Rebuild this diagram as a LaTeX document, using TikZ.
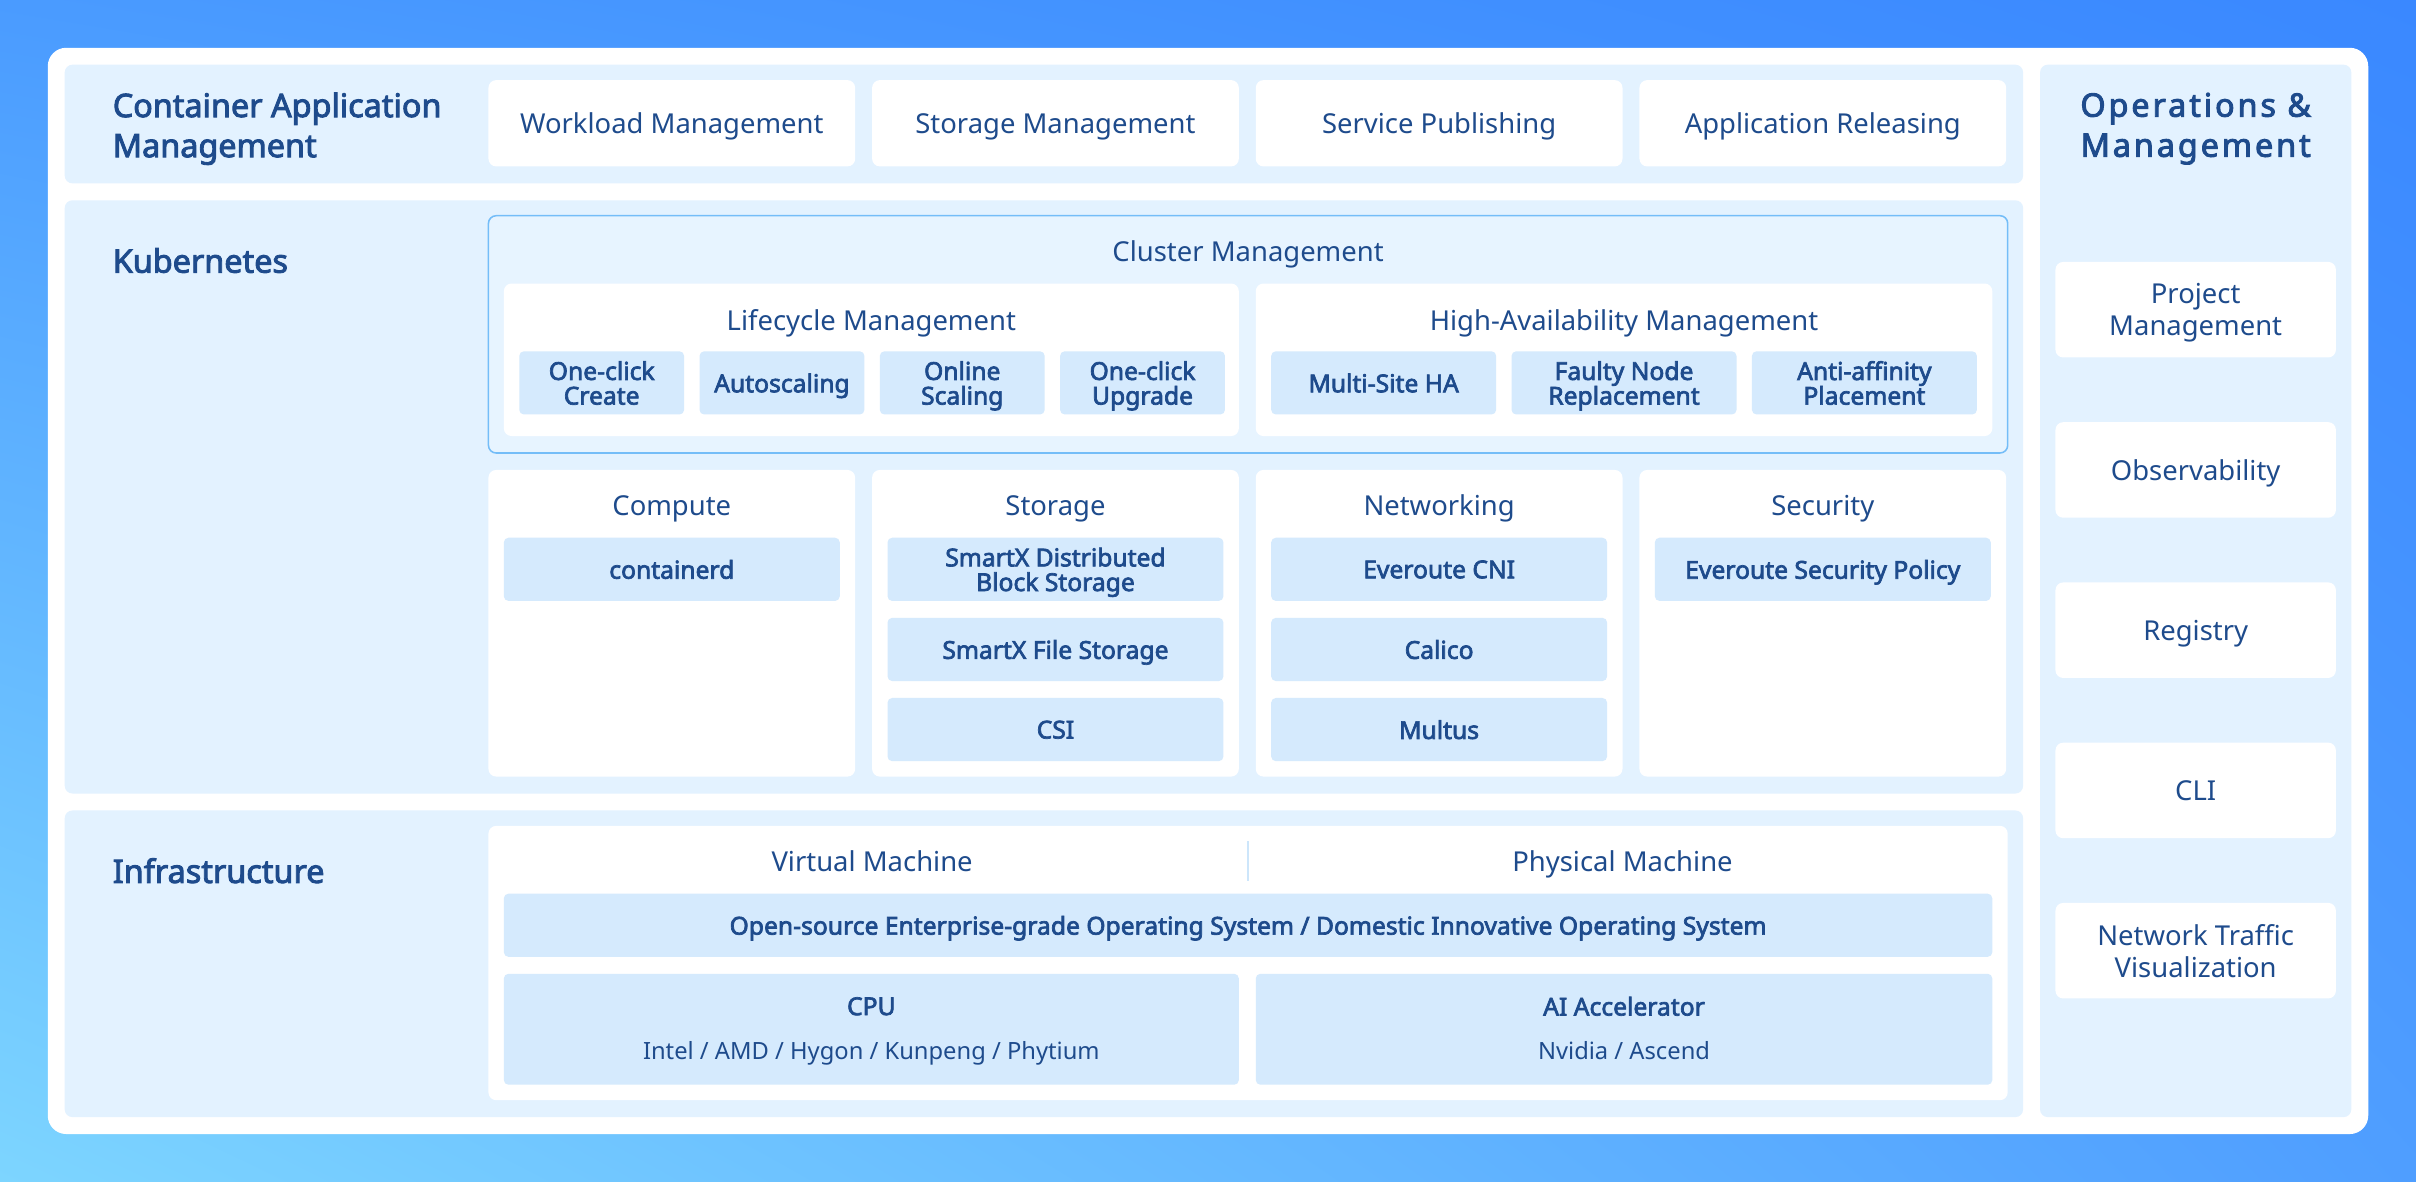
\documentclass[tikz,border=0pt]{standalone}
\usepackage{fontspec}
\setmainfont{Noto Sans}[AutoFakeBold=2.8]
\newfontfamily\trackfont{Noto Sans}[LetterSpace=9, AutoFakeBold=2.8]
\usepackage{xcolor}
\usetikzlibrary{positioning,calc,shadings}
\definecolor{inkblue}{HTML}{1E4B8C}
\definecolor{panelblue}{HTML}{E3F2FF}
\definecolor{chipblue}{HTML}{D5EAFD}
\definecolor{edgeblue}{HTML}{74BDF8}
\definecolor{ruleblue}{HTML}{CDE6FB}
\definecolor{bgTL}{HTML}{4A9BFF}
\definecolor{bgTR}{HTML}{3A88FF}
\definecolor{bgBL}{HTML}{7DD5FF}
\definecolor{bgBR}{HTML}{4F9EFF}
\newcommand\lblfont{\fontsize{17.8}{21}\selectfont}
\newcommand\chpfont{\fontsize{16}{16}\selectfont\bfseries}
\newcommand\ttlfont{\fontsize{21}{26}\selectfont\bfseries}
\tikzset{
  panelbox/.style={fill=panelblue, rounded corners=5pt, anchor=north west, inner sep=0pt, outer sep=0pt},
  cardbox/.style={fill=white, rounded corners=5pt, anchor=north west, inner sep=0pt, outer sep=0pt, text=inkblue, font=\lblfont, align=center, text depth=0pt},
  chipbox/.style={fill=chipblue, rounded corners=3pt, anchor=north west, inner sep=0pt, outer sep=0pt, text=inkblue, font=\chpfont, align=center, text depth=0pt},
  chiptext/.style={text=inkblue, font=\chpfont, inner sep=0pt, text depth=0pt},
  layertitle/.style={text=inkblue, font=\ttlfont, align=left, anchor=west, inner sep=0pt, text depth=0pt},
  headtext/.style={text=inkblue, font=\lblfont, inner sep=0pt, text depth=0pt}
}
\begin{document}
\begin{tikzpicture}[x=1pt, y=-1pt, node distance=11pt]
  \useasboundingbox (0,0) rectangle (1568,767);
  \shade[upper left=bgTL, upper right=bgTR, lower left=bgBL, lower right=bgBR] (0,0) rectangle (1568,767);
  \fill[white, rounded corners=12pt] (31,31) rectangle (1537,736);

  % layers
  \node[panelbox, minimum width=1271pt, minimum height=77pt] (app) at (42,42) {};
  \node[panelbox, minimum width=1271pt, minimum height=385pt] (k8s) at (42,130) {};
  \node[panelbox, minimum width=1271pt, minimum height=199pt] (infra) at (42,526) {};
  \node[panelbox, minimum width=202pt, minimum height=683pt] (ops) at (1324,42) {};

  \node[layertitle] (appT) at (73,81) {Container Application\\Management};
  \node[layertitle] (k8sT) at (73,169) {Kubernetes};
  \node[layertitle] (infraT) at (73,565) {Infrastructure};

  % container application management
  \node[cardbox, minimum width=238pt, minimum height=56pt] (wl) at (317,52) {Workload Management};
  \node[cardbox, minimum width=238pt, minimum height=56pt, right=of wl] (stm) {Storage Management};
  \node[cardbox, minimum width=238pt, minimum height=56pt, right=of stm] (svc) {Service Publishing};
  \node[cardbox, minimum width=238pt, minimum height=56pt, right=of svc] (rel) {Application Releasing};

  % cluster management
  \node[panelbox, draw=edgeblue, line width=1pt, fill=panelblue!85!white, minimum width=986pt, minimum height=154pt] (clu) at (317,140) {};
  \node[headtext] (cluT) at ($(clu.north)+(0,23)$) {Cluster Management};
  \node[cardbox, minimum width=477pt, minimum height=99pt] (life) at (327,184) {};
  \node[cardbox, minimum width=478pt, minimum height=99pt] (ha) at (815,184) {};
  \node[headtext] (lifeT) at ($(life.north)+(0,24)$) {Lifecycle Management};
  \node[headtext] (haT) at ($(ha.north)+(0,24)$) {High-Availability Management};

  \node[chipbox, minimum width=107pt, minimum height=41pt] (ocC) at (337,228) {One-click\\Create};
  \node[chipbox, minimum width=107pt, minimum height=41pt, right=10pt of ocC] (auto) {Autoscaling};
  \node[chipbox, minimum width=107pt, minimum height=41pt, right=10pt of auto] (onl) {Online\\Scaling};
  \node[chipbox, minimum width=107pt, minimum height=41pt, right=10pt of onl] (ocU) {One-click\\Upgrade};

  \node[chipbox, minimum width=146pt, minimum height=41pt] (msha) at (825,228) {Multi-Site HA};
  \node[chipbox, minimum width=146pt, minimum height=41pt, right=10pt of msha] (fnr) {Faulty Node\\Replacement};
  \node[chipbox, minimum width=146pt, minimum height=41pt, right=10pt of fnr] (aap) {Anti-affinity\\Placement};

  % kubernetes columns
  \node[cardbox, minimum width=238pt, minimum height=199pt] (comp) at (317,305) {};
  \node[cardbox, minimum width=238pt, minimum height=199pt, right=of comp] (stor) {};
  \node[cardbox, minimum width=238pt, minimum height=199pt, right=of stor] (net) {};
  \node[cardbox, minimum width=238pt, minimum height=199pt, right=of net] (sec) {};
  \node[headtext] (compT) at ($(comp.north)+(0,23)$) {Compute};
  \node[headtext] (storT) at ($(stor.north)+(0,23)$) {Storage};
  \node[headtext] (netT) at ($(net.north)+(0,23)$) {Networking};
  \node[headtext] (secT) at ($(sec.north)+(0,23)$) {Security};

  \node[chipbox, minimum width=218pt, minimum height=41pt, below=44pt of comp.north] (ctrd) {containerd};
  \node[chipbox, minimum width=218pt, minimum height=41pt, below=44pt of stor.north] (sdbs) {SmartX Distributed\\Block Storage};
  \node[chipbox, minimum width=218pt, minimum height=41pt, below=of sdbs] (sfs) {SmartX File Storage};
  \node[chipbox, minimum width=218pt, minimum height=41pt, below=of sfs] (csi) {CSI};
  \node[chipbox, minimum width=218pt, minimum height=41pt, below=44pt of net.north] (ecni) {Everoute CNI};
  \node[chipbox, minimum width=218pt, minimum height=41pt, below=of ecni] (cal) {Calico};
  \node[chipbox, minimum width=218pt, minimum height=41pt, below=of cal] (mul) {Multus};
  \node[chipbox, minimum width=218pt, minimum height=41pt, below=44pt of sec.north] (esp) {Everoute Security Policy};

  % infrastructure
  \node[cardbox, minimum width=986pt, minimum height=178pt] (hw) at (317,536) {};
  \node[headtext] (vm) at (566,559) {Virtual Machine};
  \node[headtext] (pm) at (1053,559) {Physical Machine};
  \coordinate (divT) at (810,546);
  \coordinate (divB) at (810,572);
  \draw[ruleblue, line width=1pt] (divT) -- (divB);
  \node[chipbox, minimum width=966pt, minimum height=41pt] (os) at (327,580) {Open-source Enterprise-grade Operating System / Domestic Innovative Operating System};
  \node[chipbox, minimum width=477pt, minimum height=72pt] (cpu) at (327,632) {};
  \node[chipbox, minimum width=478pt, minimum height=72pt] (aiacc) at (815,632) {};
  \node[chiptext] (cpuT) at ($(cpu.north)+(0,21)$) {CPU};
  \node[headtext, font=\fontsize{15.4}{17}\selectfont] (cpuV) at ($(cpu.north)+(0,50)$) {Intel / AMD / Hygon / Kunpeng / Phytium};
  \node[chiptext] (aiT) at ($(aiacc.north)+(0,21)$) {AI Accelerator};
  \node[headtext, font=\fontsize{15.4}{17}\selectfont] (aiV) at ($(aiacc.north)+(0,50)$) {Nvidia / Ascend};

  % operations & management
  \node[layertitle, anchor=center, align=center, font=\fontsize{21}{26}\selectfont\trackfont\bfseries] (opsT) at (1425,81) {Operations \&\\Management};
  \node[cardbox, minimum width=182pt, minimum height=62pt] (proj) at (1334,170) {Project\\Management};
  \node[cardbox, minimum width=182pt, minimum height=62pt, below=42pt of proj] (obs) {Observability};
  \node[cardbox, minimum width=182pt, minimum height=62pt, below=42pt of obs] (reg) {Registry};
  \node[cardbox, minimum width=182pt, minimum height=62pt, below=42pt of reg] (cli) {CLI};
  \node[cardbox, minimum width=182pt, minimum height=62pt, below=42pt of cli] (ntv) {Network Traffic\\Visualization};
\end{tikzpicture}
\end{document}
